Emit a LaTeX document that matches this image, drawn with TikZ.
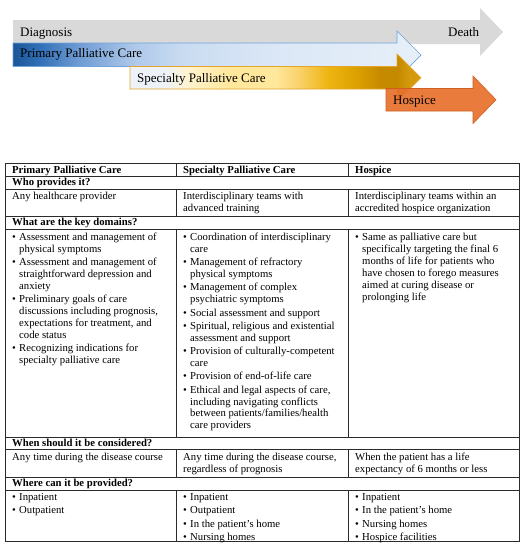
\documentclass[tikz,border=0pt]{standalone}
\usepackage{fontspec}
\setmainfont{Liberation Serif}
\definecolor{garr}{HTML}{D9D9D9}
\definecolor{bA}{HTML}{1A5597}
\definecolor{bB}{HTML}{2F6DB5}
\definecolor{bC}{HTML}{6E9BD3}
\definecolor{bD}{HTML}{AFC9EA}
\definecolor{bE}{HTML}{CADCF2}
\definecolor{bF}{HTML}{DCE8F6}
\definecolor{bG}{HTML}{E6EFF9}
\definecolor{bline}{HTML}{6FA3D8}
\definecolor{yA}{HTML}{EDF2F8}
\definecolor{yB}{HTML}{FFF3CF}
\definecolor{yC}{HTML}{FFE79C}
\definecolor{yD}{HTML}{F9D26A}
\definecolor{yE}{HTML}{EDB512}
\definecolor{yF}{HTML}{DCA000}
\definecolor{yG}{HTML}{C68A00}
\definecolor{yH}{HTML}{D49A0C}
\definecolor{yline}{HTML}{E4A52A}
\definecolor{oarr}{HTML}{E8712D}
\definecolor{oline}{HTML}{CF5E1F}
\definecolor{tline}{HTML}{2B2B2B}
\pgfdeclarehorizontalshading{blueshade}{100bp}{color(0bp)=(bA); color(25bp)=(bA); color(28bp)=(bB); color(33bp)=(bC); color(40bp)=(bD); color(46bp)=(bE); color(58bp)=(bF); color(75bp)=(bG); color(100bp)=(bG)}
\pgfdeclarehorizontalshading{goldshade}{100bp}{color(0bp)=(yA); color(25bp)=(yA); color(31bp)=(yA); color(35bp)=(yB); color(42bp)=(yC); color(50bp)=(yC); color(54bp)=(yD); color(59bp)=(yE); color(64bp)=(yF); color(68bp)=(yG); color(71bp)=(yG); color(73bp)=(yH); color(100bp)=(yH)}
\newcommand\tbl{\makebox[7pt][l]{\textbullet}}
\newcommand\tin{\hspace*{7pt}}
\tikzset{
  arrlabel/.style={anchor=base west, inner sep=0pt, font=\fontsize{13}{15}\selectfont},
  cell/.style={anchor=base west, inner sep=0pt, font=\fontsize{10.7}{11.9}\selectfont},
  tab/.style={draw=tline, line width=0.8pt},
}
\begin{document}
\begin{tikzpicture}[x=1pt,y=-1pt]
\useasboundingbox (0,0) rectangle (526,550);
\fill[white] (0,0) rectangle (526,550);
% ---- arrows ----
\fill[garr] (13,20) -- (480,20) -- (480,8) -- (503,32) -- (480,56) -- (480,44) -- (13,44) -- cycle;
\shadedraw[shading=blueshade, draw=bline, line width=0.7pt] (13,43) -- (397,43) -- (397,31) -- (421,55) -- (397,79) -- (397,66.5) -- (13,66.5) -- cycle;
\shadedraw[shading=goldshade, draw=yline, line width=0.7pt] (130,66.5) -- (397,66.5) -- (397,54) -- (421,77.75) -- (397,101.5) -- (397,89) -- (130,89) -- cycle;
\filldraw[fill=oarr, fill opacity=0.92, draw=oline, line width=0.6pt] (386,88.5) -- (473,88.5) -- (473,76) -- (496,99.75) -- (473,123.5) -- (473,111) -- (386,111) -- cycle;
\node[arrlabel] (tDiag) at (20,36.5) {Diagnosis};
\node[arrlabel] (tDeath) at (448,36.5) {Death};
\node[arrlabel] (tPrim) at (20,57.5) {Primary Palliative Care};
\node[arrlabel] (tSpec) at (137,82) {Specialty Palliative Care};
\node[arrlabel] (tHosp) at (393,104) {Hospice};
% ---- table lines ----
\draw[tab] (5.5,163.5) rectangle (519,541);
\foreach \yy in {176.5,189,216,229,437,449.5,477,490}
  \draw[tab] (5.5,\yy) -- (519,\yy);
\foreach \xx in {176.5,348.5}{
  \draw[tab] (\xx,163.5) -- (\xx,176.5);
  \draw[tab] (\xx,189) -- (\xx,216);
  \draw[tab] (\xx,229) -- (\xx,437);
  \draw[tab] (\xx,449.5) -- (\xx,477);
  \draw[tab] (\xx,490) -- (\xx,541);
}
% ---- table text ----
\node[cell] (h1) at (12,173) {\textbf{Primary Palliative Care}};
\node[cell] (h2) at (183,173) {\textbf{Specialty Palliative Care}};
\node[cell] (h3) at (355,173) {\textbf{Hospice}};
\node[cell] (rWho) at (12,185.5) {\textbf{Who provides it?}};
\node[cell] (p1) at (12,199.5) {Any healthcare provider};
\node[cell] (p2) at (183,199.5) {\begin{tabular}[t]{@{}l@{}}Interdisciplinary teams with\\advanced training\end{tabular}};
\node[cell] (p3) at (355,199.5) {\begin{tabular}[t]{@{}l@{}}Interdisciplinary teams within an\\accredited hospice organization\end{tabular}};
\node[cell] (rWhat) at (12,225.5) {\textbf{What are the key domains?}};
\node[cell] (d1) at (12,240.5) {\begin{tabular}[t]{@{}l@{}}
\tbl Assessment and management of\\
\tin physical symptoms\\[1.4pt]
\tbl Assessment and management of\\
\tin straightforward depression and\\
\tin anxiety\\[1.4pt]
\tbl Preliminary goals of care\\
\tin discussions including prognosis,\\
\tin expectations for treatment, and\\
\tin code status\\[1.4pt]
\tbl Recognizing indications for\\
\tin specialty palliative care
\end{tabular}};
\node[cell] (d2) at (183,240.5) {\begin{tabular}[t]{@{}l@{}}
\tbl Coordination of interdisciplinary\\
\tin care\\[1.4pt]
\tbl Management of refractory\\
\tin physical symptoms\\[1.4pt]
\tbl Management of complex\\
\tin psychiatric symptoms\\[1.4pt]
\tbl Social assessment and support\\[1.4pt]
\tbl Spiritual, religious and existential\\
\tin assessment and support\\[1.4pt]
\tbl Provision of culturally-competent\\
\tin care\\[1.4pt]
\tbl Provision of end-of-life care\\[1.4pt]
\tbl Ethical and legal aspects of care,\\
\tin including navigating conflicts\\
\tin between patients/families/health\\
\tin care providers
\end{tabular}};
\node[cell] (d3) at (355,240.5) {\begin{tabular}[t]{@{}l@{}}
\tbl Same as palliative care but\\
\tin specifically targeting the final 6\\
\tin months of life for patients who\\
\tin have chosen to forego measures\\
\tin aimed at curing disease or\\
\tin prolonging life
\end{tabular}};
\node[cell] (rWhen) at (12,446) {\textbf{When should it be considered?}};
\node[cell] (w1) at (12,460.5) {Any time during the disease course};
\node[cell] (w2) at (183,460.5) {\begin{tabular}[t]{@{}l@{}}Any time during the disease course,\\regardless of prognosis\end{tabular}};
\node[cell] (w3) at (355,460.5) {\begin{tabular}[t]{@{}l@{}}When the patient has a life\\expectancy of 6 months or less\end{tabular}};
\node[cell] (rWhere) at (12,486.5) {\textbf{Where can it be provided?}};
\node[cell] (l1) at (12,500.5) {\begin{tabular}[t]{@{}l@{}}
\tbl Inpatient\\[1.4pt]
\tbl Outpatient
\end{tabular}};
\node[cell] (l2) at (183,500.5) {\begin{tabular}[t]{@{}l@{}}
\tbl Inpatient\\[1.4pt]
\tbl Outpatient\\[1.4pt]
\tbl In the patient’s home\\[1.4pt]
\tbl Nursing homes
\end{tabular}};
\node[cell] (l3) at (355,500.5) {\begin{tabular}[t]{@{}l@{}}
\tbl Inpatient\\[1.4pt]
\tbl In the patient’s home\\[1.4pt]
\tbl Nursing homes\\[1.4pt]
\tbl Hospice facilities
\end{tabular}};
\end{tikzpicture}
\end{document}
